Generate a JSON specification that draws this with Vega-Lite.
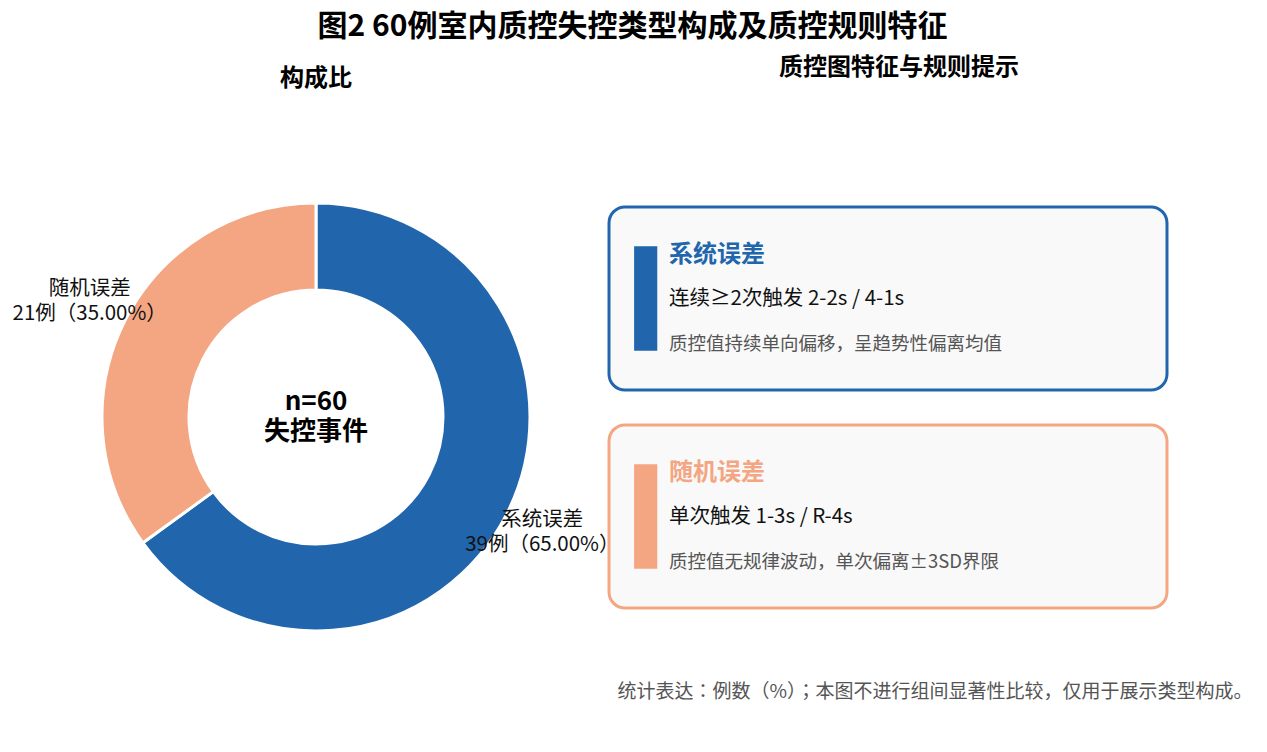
{
  "$schema": "https://vega.github.io/schema/vega-lite/v6.json",
  "background": "white",
  "padding": {"left": 12, "top": 12, "right": 5, "bottom": 5},
  "title": {
    "text": "图2 60例室内质控失控类型构成及质控规则特征",
    "font": "Noto Sans CJK JP",
    "fontSize": 30,
    "fontWeight": "bold",
    "color": "#000000",
    "anchor": "middle",
    "offset": 14
  },
  "config": {
    "font": "Noto Sans CJK JP",
    "view": {"stroke": null},
    "concat": {"spacing": 79}
  },
  "datasets": {
    "types": [
      {"type": "系统误差", "count": 39, "label": "系统误差\n39例（65.00%）"},
      {"type": "随机误差", "count": 21, "label": "随机误差\n21例（35.00%）"}
    ],
    "rules": [
      {"type": "系统误差", "rule": "连续≥2次触发 2-2s / 4-1s", "desc": "质控值持续单向偏移，呈趋势性偏离均值"},
      {"type": "随机误差", "rule": "单次触发 1-3s / R-4s", "desc": "质控值无规律波动，单次偏离±3SD界限"}
    ]
  },
  "vconcat": [
    {
      "title": {
        "text": "统计表达：例数（%）；本图不进行组间显著性比较，仅用于展示类型构成。",
        "orient": "bottom",
        "anchor": "end",
        "fontSize": 19,
        "fontWeight": "normal",
        "color": "#555555",
        "offset": 46,
        "dx": 84
      },
      "bounds": "flush",
      "spacing": 79,
      "hconcat": [
        {
          "width": 428,
          "height": 428,
          "title": {
            "text": "构成比",
            "fontSize": 24,
            "fontWeight": "bold",
            "color": "#000000",
            "anchor": "middle",
            "offset": 106
          },
          "layer": [
            {
              "data": {"name": "types"},
              "mark": {"type": "arc", "outerRadius": 214, "innerRadius": 127, "stroke": "white", "strokeWidth": 3},
              "encoding": {
                "theta": {"field": "count", "type": "quantitative", "stack": true},
                "order": {"field": "type", "sort": "ascending"},
                "color": {
                  "field": "type",
                  "type": "nominal",
                  "scale": {"domain": ["系统误差", "随机误差"], "range": ["#2166ac", "#f4a582"]},
                  "legend": null
                }
              }
            },
            {
              "data": {"name": "types"},
              "mark": {"type": "text", "radius": 254, "fontSize": 20.5, "lineBreak": "\n", "lineHeight": 25, "dy": -12.5, "align": "center", "baseline": "middle", "color": "#111111"},
              "encoding": {
                "theta": {"field": "count", "type": "quantitative", "stack": true},
                "order": {"field": "type", "sort": "ascending"},
                "detail": {"field": "type"},
                "text": {"field": "label"}
              }
            },
            {
              "data": {"values": [{"t": "n=60\n失控事件"}]},
              "mark": {"type": "text", "fontSize": 26, "fontWeight": "bold", "lineBreak": "\n", "lineHeight": 30, "dy": -15, "align": "center", "baseline": "middle", "color": "#000000"},
              "encoding": {"text": {"field": "t"}}
            }
          ]
        },
        {
          "width": 558,
          "height": 409,
          "title": {
            "text": "质控图特征与规则提示",
            "fontSize": 24,
            "fontWeight": "bold",
            "color": "#000000",
            "anchor": "middle",
            "offset": 123,
            "dx": 11
          },
          "data": {"name": "rules"},
          "layer": [
            {
              "mark": {"type": "bar", "fill": "#f9f9f9", "strokeWidth": 3, "cornerRadius": 16},
              "encoding": {
                "y": {
                  "field": "type",
                  "type": "nominal",
                  "scale": {"domain": ["系统误差", "随机误差"], "paddingInner": 0.16, "paddingOuter": 0.018},
                  "axis": null
                },
                "x": {"datum": 0, "type": "quantitative", "scale": {"domain": [0, 1]}, "axis": null},
                "x2": {"datum": 1},
                "stroke": {
                  "field": "type",
                  "type": "nominal",
                  "scale": {"domain": ["系统误差", "随机误差"], "range": ["#2166ac", "#f4a582"]},
                  "legend": null
                }
              }
            },
            {
              "mark": {"type": "bar", "height": {"band": 0.57}},
              "encoding": {
                "y": {"field": "type", "type": "nominal", "axis": null},
                "x": {"datum": 0.045, "type": "quantitative"},
                "x2": {"datum": 0.0865},
                "color": {
                  "field": "type",
                  "type": "nominal",
                  "scale": {"domain": ["系统误差", "随机误差"], "range": ["#2166ac", "#f4a582"]},
                  "legend": null
                }
              }
            },
            {
              "mark": {"type": "text", "align": "left", "baseline": "middle", "fontSize": 24, "fontWeight": "bold"},
              "encoding": {
                "y": {"field": "type", "type": "nominal", "bandPosition": 0.262, "axis": null},
                "x": {"datum": 0.1075, "type": "quantitative"},
                "text": {"field": "type"},
                "color": {"field": "type", "type": "nominal", "legend": null}
              }
            },
            {
              "mark": {"type": "text", "align": "left", "baseline": "middle", "fontSize": 20.5, "color": "#111111"},
              "encoding": {
                "y": {"field": "type", "type": "nominal", "bandPosition": 0.505, "axis": null},
                "x": {"datum": 0.1075, "type": "quantitative"},
                "text": {"field": "rule"}
              }
            },
            {
              "mark": {"type": "text", "align": "left", "baseline": "middle", "fontSize": 18.5, "color": "#555555"},
              "encoding": {
                "y": {"field": "type", "type": "nominal", "bandPosition": 0.75, "axis": null},
                "x": {"datum": 0.1075, "type": "quantitative"},
                "text": {"field": "desc"}
              }
            }
          ]
        }
      ]
    }
  ]
}
